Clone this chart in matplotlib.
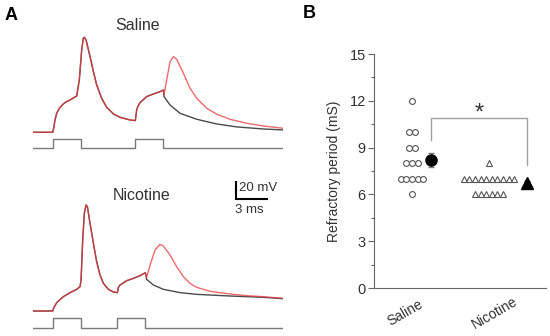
import numpy as np
import matplotlib.pyplot as plt

plt.rcParams['font.family'] = ['Liberation Sans', 'DejaVu Sans']

# ---- panel A: traces (time in ms, voltage in mV relative to rest) ----
sal_t = [0.03, 1.93, 2.06, 2.15, 2.32, 2.60, 2.97, 3.30, 3.63, 4.28, 4.54, 4.77, 4.93,
         5.03, 5.20, 5.59, 5.92, 6.24, 6.73, 7.22, 7.88, 8.53, 9.51, 10.03, 10.16,
         10.30, 10.49, 11.14, 11.80, 12.45, 12.78]
sal_v = [0, 0, 6.5, 14.0, 21.9, 28.0, 32.7, 35.5, 37.3, 41.9, 60.4, 95.0, 108.5,
         109.6, 106.5, 87.3, 70.0, 54.6, 39.2, 28.8, 21.2, 17.3, 14.2, 13.5, 25.8,
         30.5, 34.2, 41.2, 44.2, 46.9, 48.8]
sal_red_t = [12.84, 13.10, 13.43, 13.76, 14.08, 14.74, 15.39, 16.05, 17.03, 18.01,
             19.31, 20.95, 22.58, 24.54]
sal_red_v = [43.1, 60.4, 81.5, 87.3, 84.2, 68.1, 50.8, 39.2, 27.7, 20.8,
             15.0, 10.4, 7.3, 4.6]
sal_blk_t = [12.84, 13.43, 14.41, 16.05, 18.01, 19.97, 22.58, 24.54]
sal_blk_v = [41.2, 31.5, 21.9, 15.0, 9.6, 6.2, 3.8, 2.7]
sal_stim_on = [(1.93, 4.67), (10.03, 12.78)]

nic_t = [0.03, 1.93, 2.06, 2.32, 2.97, 3.63, 4.28, 4.61, 4.71, 4.87, 5.03, 5.20, 5.33,
         5.59, 5.92, 6.24, 6.57, 6.90, 7.39, 7.88, 8.27, 8.37, 8.53, 9.18, 9.84,
         10.49, 11.01]
nic_v = [0, 0, 4.2, 9.6, 16.5, 21.2, 25.0, 28.1, 35.8, 81.9, 112.7, 122.3, 120.4,
         101.2, 78.1, 56.9, 41.5, 31.9, 25.0, 21.9, 21.2, 27.3, 30.0, 35.0, 37.7,
         40.8, 44.2]
nic_red_t = [11.14, 11.47, 11.96, 12.45, 12.78, 13.43, 14.08, 14.74, 15.39, 16.05,
             17.35, 19.31, 20.95, 22.58, 24.54]
nic_red_v = [38.8, 53.1, 70.4, 76.9, 75.0, 64.6, 51.2, 39.6, 31.9, 27.3,
             22.7, 19.6, 17.7, 16.5, 14.6]
nic_blk_t = [11.14, 11.80, 12.78, 14.41, 16.05, 19.31, 22.58, 24.54]
nic_blk_v = [36.5, 30.0, 25.0, 21.2, 19.2, 17.3, 15.8, 14.2]
nic_stim_on = [(1.93, 4.67), (8.27, 11.01)]

# ---- panel B: refractory period (ms) ----
saline_vals = [12, 10, 10, 9, 9, 8, 8, 8, 7, 7, 7, 7, 7, 6]
nicotine_vals = [8] + [7] * 10 + [6] * 6
groups = ['Saline', 'Nicotine']

W, H = 550, 336


def px_rect(l, t, r, b):
    return [l / W, 1 - b / H, (r - l) / W, (b - t) / H]


def stim_trace(pulses, t_end, base, amp):
    xs, ys = [0.03], [base]
    for a, b in pulses:
        xs += [a, a, b, b]
        ys += [base, base + amp, base + amp, base]
    xs.append(t_end)
    ys.append(base)
    return xs, ys


def draw_trace(ax, t, v, rt, rv, bt, bv, pulses, sbase, samp):
    ax.plot(t + bt, v + bv, color='#4a4a4a', lw=1.0)
    ax.plot(t + rt, v + rv, color='#e8383c', lw=1.0, alpha=0.75)
    sx, sy = stim_trace(pulses, t[0] + 24.5, sbase, samp)
    ax.plot(sx, sy, color='#7a7a7a', lw=1.0)
    ax.set_xlim(0, 24.5)
    ax.axis('off')


fig = plt.figure(figsize=(5.5, 3.36), dpi=100)

ax1 = fig.add_axes(px_rect(33, 30, 283, 155))
draw_trace(ax1, sal_t, sal_v, sal_red_t, sal_red_v, sal_blk_t, sal_blk_v,
           sal_stim_on, -18.5, 10.8)
ax1.set_ylim(-26.2, 118)

ax2 = fig.add_axes(px_rect(33, 175, 283, 333))
draw_trace(ax2, nic_t, nic_v, nic_red_t, nic_red_v, nic_blk_t, nic_blk_v,
           nic_stim_on, -20, 11.5)
ax2.set_ylim(-25.4, 157)

# scale bar
ax2.plot([19.9, 19.9, 22.9], [149.2, 129.2, 129.2], color='black', lw=1.5,
         solid_joinstyle='miter', clip_on=False)
ax2.text(20.2, 142, '20 mV', fontsize=9.5, color='#333333', ha='left', va='center')
ax2.text(19.8, 117, '3 ms', fontsize=9.5, color='#333333', ha='left', va='center')

fig.text(137.5 / W, 1 - 25 / H, 'Saline', fontsize=11.5, color='#333333',
         ha='center', va='center')
fig.text(142 / W, 1 - 195 / H, 'Nicotine', fontsize=11.5, color='#333333',
         ha='center', va='center')
fig.text(5 / W, 1 - 15 / H, 'A', fontsize=13, fontweight='bold', ha='left', va='center')
fig.text(303 / W, 1 - 13 / H, 'B', fontsize=13, fontweight='bold', ha='left', va='center')

# ---- panel B ----
ax3 = fig.add_axes(px_rect(374, 54, 546, 288))
ax3.set_xlim(0, 10)
ax3.set_ylim(0, 15)
centers = [2.21, 6.69]
mean_x = [3.31, 8.9]
spacing = 0.326


def row_positions(vals, center):
    xs, ys = [], []
    for v in sorted(set(vals)):
        n = vals.count(v)
        for i in range(n):
            xs.append(center + (i - (n - 1) / 2) * spacing)
            ys.append(v)
    return xs, ys


sx, sy = row_positions(saline_vals, centers[0])
nx, ny = row_positions(nicotine_vals, centers[1])
ax3.plot(sx, sy, 'o', ms=4.2, mfc='white', mec='#555555', mew=0.8, clip_on=False)
ax3.plot(nx, ny, '^', ms=4.4, mfc='white', mec='#555555', mew=0.8, clip_on=False)

s_mean = np.mean(saline_vals)
s_sem = np.std(saline_vals, ddof=1) / np.sqrt(len(saline_vals))
n_mean = np.mean(nicotine_vals)
n_sem = np.std(nicotine_vals, ddof=1) / np.sqrt(len(nicotine_vals))
ax3.errorbar(mean_x[0], s_mean, yerr=s_sem, fmt='o', ms=8, color='black',
             ecolor='#777777', elinewidth=1, capsize=2)
ax3.errorbar(mean_x[1], n_mean, yerr=n_sem, fmt='^', ms=8.5, color='black',
             ecolor='#777777', elinewidth=1, capsize=2)

# significance bracket
ax3.plot([mean_x[0], mean_x[0], mean_x[1], mean_x[1]], [9.5, 10.88, 10.88, 7.9],
         color='#a0a0a0', lw=1)
ax3.text(6.1, 11.2, '*', fontsize=17, color='#333333', ha='center', va='center')

ax3.spines['top'].set_visible(False)
ax3.spines['right'].set_visible(False)
for s in ['left', 'bottom']:
    ax3.spines[s].set_color('#666666')
    ax3.spines[s].set_linewidth(0.8)
ax3.set_xticks([])
ax3.set_yticks(np.arange(0, 16, 3))
ax3.set_yticks(np.arange(1.5, 15, 3), minor=True)
ax3.tick_params(axis='y', which='major', length=4, width=0.8, color='#666666',
                labelsize=10.5, labelcolor='#333333', pad=2)
ax3.tick_params(axis='y', which='minor', length=2, width=0.8, color='#666666')
ax3.set_ylabel('Refractory period (mS)', fontsize=10, color='#333333', labelpad=6)

label_x = [1.8, 7.0]
for lx, g in zip(label_x, groups):
    ax3.text(lx, -0.107, g, transform=ax3.get_xaxis_transform(), rotation=30,
             fontsize=10, color='#333333', ha='center', va='center')

fig.savefig('out.png', dpi=100)
